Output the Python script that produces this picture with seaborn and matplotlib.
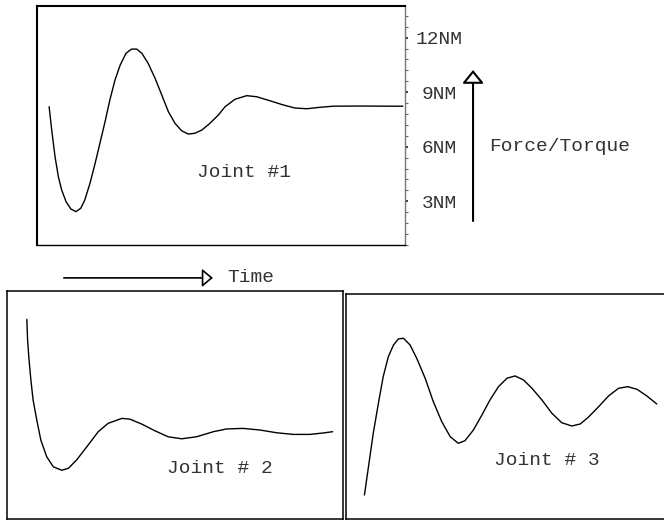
import numpy as np
import pandas as pd
import matplotlib
matplotlib.use("Agg")
import matplotlib.pyplot as plt
from matplotlib.ticker import MultipleLocator
import seaborn as sns

# Joint 1: force/torque response (NM) over time
t1 = [0.33, 0.40, 0.49, 0.58, 0.67, 0.79, 0.92, 1.06, 1.19, 1.30, 1.44, 1.58,
      1.71, 1.85, 1.98, 2.12, 2.26, 2.42, 2.57, 2.71, 2.85, 3.02, 3.21, 3.39,
      3.57, 3.75, 3.93, 4.11, 4.29, 4.48, 4.70, 4.93, 5.11, 5.38, 5.70, 5.97,
      6.33, 6.69, 7.01, 7.33, 7.69, 8.05, 8.78, 9.68, 9.94]
f1 = [8.20, 6.92, 5.46, 4.36, 3.63, 2.98, 2.58, 2.43, 2.62, 3.08, 3.99, 5.09,
      6.19, 7.38, 8.57, 9.67, 10.49, 11.14, 11.37, 11.37, 11.14, 10.59, 9.76, 8.85,
      7.93, 7.29, 6.88, 6.70, 6.74, 6.92, 7.29, 7.75, 8.20, 8.61, 8.81, 8.75,
      8.53, 8.30, 8.13, 8.09, 8.17, 8.23, 8.24, 8.23, 8.23]

# Joint 2
t2 = [0.54, 0.56, 0.60, 0.65, 0.71, 0.81, 0.92, 1.08, 1.26, 1.49, 1.67, 1.89,
      2.17, 2.48, 2.75, 3.12, 3.34, 3.66, 4.02, 4.38, 4.75, 5.15, 5.61, 5.97,
      6.42, 6.88, 7.33, 7.78, 8.23, 8.60, 8.85]
f2 = [10.97, 9.84, 8.74, 7.64, 6.54, 5.44, 4.34, 3.42, 2.87, 2.68, 2.79, 3.24,
      3.97, 4.80, 5.26, 5.53, 5.49, 5.22, 4.85, 4.52, 4.41, 4.52, 4.80, 4.95,
      4.98, 4.89, 4.74, 4.65, 4.65, 4.73, 4.80]

# Joint 3
t3 = [0.50, 0.61, 0.74, 0.88, 1.01, 1.15, 1.29, 1.42, 1.56, 1.74, 1.92, 2.15,
      2.37, 2.60, 2.83, 3.05, 3.23, 3.46, 3.69, 3.91, 4.14, 4.37, 4.59, 4.82,
      5.05, 5.32, 5.59, 5.86, 6.13, 6.36, 6.58, 6.86, 7.13, 7.40, 7.65, 7.90,
      8.17, 8.44]
f3 = [1.32, 2.87, 4.71, 6.36, 7.82, 8.92, 9.56, 9.89, 9.93, 9.56, 8.83, 7.73,
      6.45, 5.35, 4.52, 4.16, 4.30, 4.89, 5.71, 6.54, 7.27, 7.73, 7.86, 7.64,
      7.18, 6.54, 5.81, 5.29, 5.11, 5.22, 5.59, 6.17, 6.76, 7.18, 7.27, 7.13,
      6.76, 6.32]

tick_vals = [3, 6, 9, 12]
tick_labels = ["3NM", "6NM", "9NM", "12NM"]

sns.set_style("white")
plt.rcParams["font.family"] = ["Liberation Mono", "DejaVu Sans Mono"]

fig = plt.figure(figsize=(6.64, 5.21), dpi=100)
ax1 = fig.add_axes([0.0557, 0.5298, 0.5542, 0.4587])
ax2 = fig.add_axes([0.0105, 0.0038, 0.5060, 0.4376])
ax3 = fig.add_axes([0.5211, 0.0038, 0.4880, 0.4319])

txt = dict(fontsize=14, color="#333333")

for ax, t, f in [(ax1, t1, f1), (ax2, t2, f2), (ax3, t3, f3)]:
    df = pd.DataFrame({"time": t, "force": f})
    sns.lineplot(data=df, x="time", y="force", ax=ax, color="black",
                 linewidth=1.0, sort=False, solid_joinstyle="round")
    ax.set_xlabel("")
    ax.set_ylabel("")
    ax.set_xticks([])
    for s in ax.spines.values():
        s.set_visible(True)
        s.set_color("black")
        s.set_linewidth(1.1)

# top panel with scale on the right
ax1.set_xlim(0, 10)
ax1.set_ylim(0.6, 13.74)
ax1.yaxis.tick_right()
ax1.set_yticks(tick_vals)
ax1.set_yticklabels(tick_labels, **txt)
ax1.yaxis.set_minor_locator(MultipleLocator(0.6))
ax1.tick_params(axis="y", which="major", right=True, length=2.5, width=1.5,
                color="#444444", pad=22)
ax1.tick_params(axis="y", which="minor", right=True, length=2, width=0.8,
                color="#666666")
for lab in ax1.get_yticklabels():
    lab.set_horizontalalignment("center")
ax1.spines["top"].set_linewidth(1.5)
ax1.spines["left"].set_linewidth(1.5)
ax1.spines["bottom"].set_linewidth(1.0)
ax1.spines["right"].set_color("#777777")
ax1.spines["right"].set_linewidth(1.0)
ax1.text(4.35, 4.56, "Joint #1", ha="left", va="center", **txt)

# force/torque arrow and time arrow
ax1.annotate("", xy=(11.85, 10.22), xytext=(11.85, 1.92), annotation_clip=False,
             arrowprops=dict(arrowstyle="-|>,head_length=0.8,head_width=0.65",
                             mutation_scale=10, fc="white", ec="black",
                             lw=1.5, shrinkA=0, shrinkB=0))
ax1.text(12.3, 6.0, "Force/Torque", ha="left", va="center", **txt)
ax1.annotate("", xy=(4.78, -1.21), xytext=(0.73, -1.21), annotation_clip=False,
             arrowprops=dict(arrowstyle="-|>,head_length=0.65,head_width=0.55",
                             mutation_scale=10, fc="white", ec="black",
                             lw=1.2, shrinkA=0, shrinkB=0))
ax1.text(5.18, -1.21, "Time", ha="left", va="center", **txt)

# bottom panels
ax2.set_xlim(0, 9.13)
ax2.set_ylim(0, 12.53)
ax2.set_yticks([])
ax2.text(4.35, 2.80, "Joint # 2", ha="left", va="center", **txt)

ax3.set_xlim(0, 8.8)
ax3.set_ylim(0, 12.36)
ax3.set_yticks([])
ax3.text(4.02, 3.24, "Joint # 3", ha="left", va="center", **txt)

fig.savefig("out.png", dpi=100)
